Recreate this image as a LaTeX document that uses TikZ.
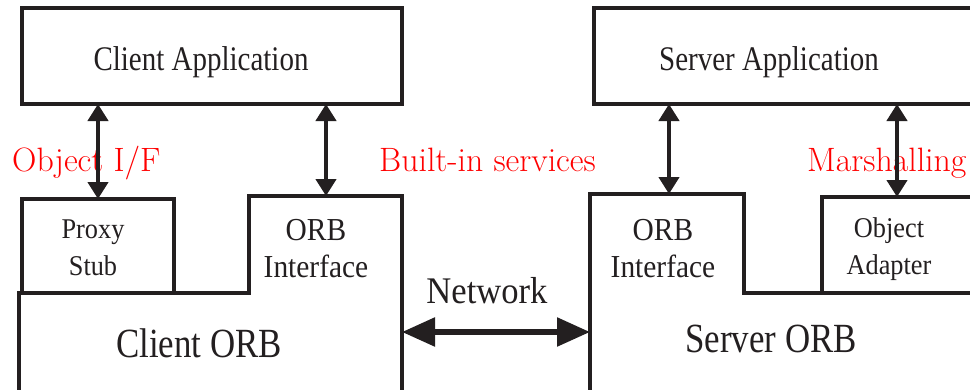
\documentclass[tikz,border=0pt]{standalone}
\usepackage{fontspec}
\newfontfamily\tnrA[FakeStretch=0.84]{Liberation Serif}
\newfontfamily\tnrB[FakeStretch=0.92]{Liberation Serif}
\usetikzlibrary{arrows.meta}
\definecolor{ink}{HTML}{231F20}
\definecolor{lab}{HTML}{FF0000}
\begin{document}
\begin{tikzpicture}[x=1pt,y=-1pt,
  boxnode/.style={draw=ink, line width=4.2pt, inner sep=0pt, outer sep=0pt},
  outline/.style={draw=ink, line width=4.2pt},
  vbi/.style={draw=ink, line width=4.2pt, {Triangle[length=17pt,width=20pt]}-{Triangle[length=17pt,width=20pt]}},
  nbi/.style={draw=ink, line width=5.5pt, {Triangle[length=33pt,width=28pt]}-{Triangle[length=33pt,width=28pt]}},
  bigtext/.style={text=ink, inner sep=0pt, anchor=base, font=\tnrA\fontsize{34.5}{40}\selectfont},
  orbtext/.style={text=ink, inner sep=0pt, anchor=base, font=\tnrA\fontsize{41.5}{48}\selectfont},
  smalltext/.style={text=ink, inner sep=0pt, anchor=base, align=center, font=\tnrB\fontsize{28.6}{37}\selectfont},
  midtext/.style={text=ink, inner sep=0pt, anchor=base, align=center, font=\tnrB\fontsize{32}{36.5}\selectfont},
  nettext/.style={text=ink, inner sep=0pt, anchor=base, font=\tnrB\fontsize{37.6}{44}\selectfont},
  redlabel/.style={text=lab, inner sep=0pt, anchor=base west, font=\fontsize{33.8}{38}\selectfont}]
\path[use as bounding box] (0,0) rectangle (970,389);
\clip (0,0) rectangle (970,389);

% boxes
\node[boxnode, minimum width=380pt, minimum height=96pt, anchor=north west] (capp) at (22,8) {};
\node[boxnode, minimum width=386pt, minimum height=96pt, anchor=north west] (sapp) at (594,8) {};
\node[boxnode, minimum width=152pt, minimum height=94pt, anchor=north west] (proxy) at (22,199) {};
\node[boxnode, minimum width=150pt, minimum height=96pt, anchor=north west] (oadapt) at (822,197) {};

% ORB outlines
\coordinate (cifcTop) at (326,196);
\coordinate (corbR) at (402,332);
\coordinate (sifcTop) at (669,194);
\coordinate (sorbL) at (590,332);
\draw[outline] (19,400) -- (19,293) -- (249,293) -- (249,196) -- (402,196) -- (402,400);
\draw[outline] (590,400) -- (590,194) -- (744,194) -- (744,293) -- (980,293);

% texts
\node[bigtext] (cappT) at (201,70) {Client Application};
\node[bigtext] (sappT) at (769,70) {Server Application};
\node[smalltext] (proxyT) at (93,275) {Proxy\\Stub};
\node[midtext] (cifcT) at (316,277) {ORB\\Interface};
\node[midtext] (sifcT) at (663,277) {ORB\\Interface};
\node[smalltext] (oadaptT) at (889,274) {Object\\Adapter};
\node[orbtext] (corbT) at (199,357) {Client ORB};
\node[orbtext] (sorbT) at (771,352) {Server ORB};
\node[nettext] (netT) at (487,303) {Network};

\node[redlabel] (l1) at (12,171) {Object I/F};
\node[redlabel] (l2) at (379,171) {Built-in services};
\node[redlabel] (l3) at (807,171) {Marshalling};

% connectors
\draw[vbi] (capp.south -| proxy.north) -- (proxy.north);
\draw[vbi] (capp.south -| cifcTop) -- (cifcTop);
\draw[vbi] (sapp.south -| sifcTop) -- (sifcTop);
\draw[vbi] (sapp.south -| oadapt.north) -- (oadapt.north);
\draw[nbi] (corbR) -- (sorbL);
\end{tikzpicture}
\end{document}
